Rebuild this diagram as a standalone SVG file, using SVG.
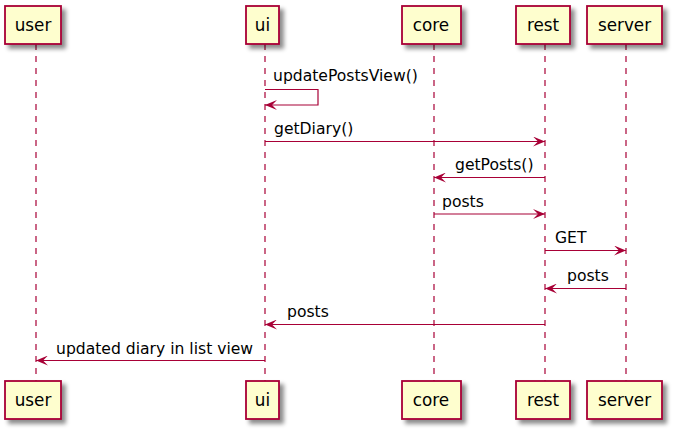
<svg xmlns="http://www.w3.org/2000/svg" width="684" height="431" viewBox="0 0 684 431">
<defs>
<filter id="sh" x="-20%" y="-20%" width="150%" height="160%">
<feGaussianBlur in="SourceAlpha" stdDeviation="2"/>
<feOffset dx="4" dy="4" result="b"/>
<feColorMatrix in="b" type="matrix" values="0 0 0 0 0  0 0 0 0 0  0 0 0 0 0  0 0 0 0.45 0" result="c"/>
<feMerge><feMergeNode in="c"/><feMergeNode in="SourceGraphic"/></feMerge>
</filter>
<marker id="ah" viewBox="0 0 12 10" refX="12" refY="5" markerWidth="12" markerHeight="10" markerUnits="userSpaceOnUse" orient="auto">
<polygon points="0,0 12,5 0,10 5,5" fill="#A80036"/>
</marker>
</defs>
<style>
.box{fill:#FEFECE;stroke:#A80036;stroke-width:1.8;filter:url(#sh)}
.life{stroke:#A80036;stroke-width:1.2;stroke-dasharray:6,6;fill:none}
.pt{font-family:"DejaVu Sans",sans-serif;font-size:16.8px;fill:#000;text-anchor:middle}
.msg{stroke:#A80036;stroke-width:1.2;fill:none;marker-end:url(#ah)}
.mt{font-family:"DejaVu Sans",sans-serif;font-size:15.6px;fill:#000}
</style>
<rect width="684" height="431" fill="#fff"/>
<g id="lifelines">
<line class="life" x1="36" y1="44" x2="36" y2="381"/>
<line class="life" x1="265" y1="44" x2="265" y2="381"/>
<line class="life" x1="434" y1="44" x2="434" y2="381"/>
<line class="life" x1="545" y1="44" x2="545" y2="381"/>
<line class="life" x1="626" y1="44" x2="626" y2="381"/>
</g>
<g id="user">
<rect class="box" x="5" y="6" width="56" height="38"/>
<text class="pt" x="33" y="30.5">user</text>
<rect class="box" x="5" y="381" width="56" height="38"/>
<text class="pt" x="33" y="405.5">user</text>
</g>
<g id="ui">
<rect class="box" x="246" y="6" width="33" height="38"/>
<text class="pt" x="262.5" y="30.5">ui</text>
<rect class="box" x="246" y="381" width="33" height="38"/>
<text class="pt" x="262.5" y="405.5">ui</text>
</g>
<g id="core">
<rect class="box" x="402" y="6" width="59" height="38"/>
<text class="pt" x="431" y="30.5">core</text>
<rect class="box" x="402" y="381" width="59" height="38"/>
<text class="pt" x="431" y="405.5">core</text>
</g>
<g id="rest">
<rect class="box" x="516" y="6" width="54" height="38"/>
<text class="pt" x="543" y="30.5">rest</text>
<rect class="box" x="516" y="381" width="54" height="38"/>
<text class="pt" x="543" y="405.5">rest</text>
</g>
<g id="server">
<rect class="box" x="587" y="6" width="75" height="38"/>
<text class="pt" x="624.5" y="30.5">server</text>
<rect class="box" x="587" y="381" width="75" height="38"/>
<text class="pt" x="624.5" y="405.5">server</text>
</g>
<g id="connectors">
<polyline class="msg" points="265,89.5 318,89.5 318,105 265,105"/>
<text class="mt" x="273" y="81">updatePostsView()</text>
<line class="msg" x1="265" y1="141.5" x2="545" y2="141.5"/>
<text class="mt" x="274" y="134">getDiary()</text>
<line class="msg" x1="545" y1="177.5" x2="434" y2="177.5"/>
<text class="mt" x="455" y="170">getPosts()</text>
<line class="msg" x1="434" y1="214" x2="545" y2="214"/>
<text class="mt" x="442" y="207">posts</text>
<line class="msg" x1="545" y1="250.5" x2="626" y2="250.5"/>
<text class="mt" x="555" y="243">GET</text>
<line class="msg" x1="626" y1="288.5" x2="545" y2="288.5"/>
<text class="mt" x="567" y="281">posts</text>
<line class="msg" x1="545" y1="324.5" x2="265" y2="324.5"/>
<text class="mt" x="287" y="317">posts</text>
<line class="msg" x1="265" y1="360.5" x2="36" y2="360.5"/>
<text class="mt" x="56" y="354">updated diary in list view</text>
</g>
</svg>
